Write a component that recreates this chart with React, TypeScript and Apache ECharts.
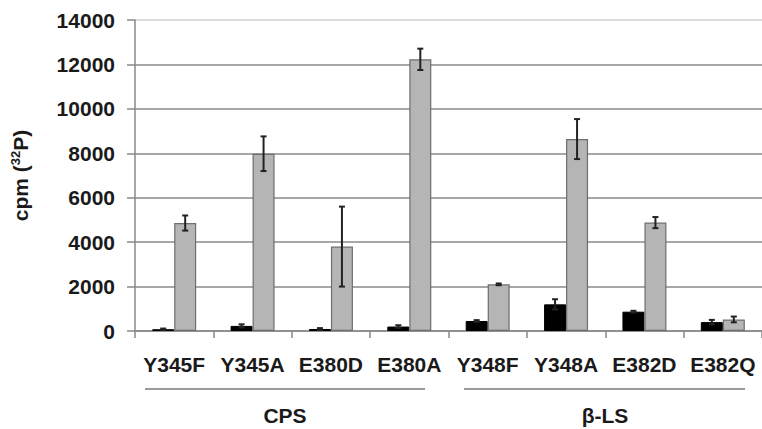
import React, { useEffect, useRef } from "react";
import * as echarts from "echarts";

const categories = ["Y345F", "Y345A", "E380D", "E380A", "Y348F", "Y348A", "E382D", "E382Q"];
const blackValues = [80, 230, 90, 200, 450, 1200, 870, 400];
const blackErrors = [30, 70, 40, 60, 40, 230, 40, 100];
const grayValues = [4860, 7980, 3800, 12230, 2100, 8640, 4880, 520];
const grayErrors = [340, 780, 1800, 480, 40, 900, 250, 130];
const yTicks = { min: 0, max: 14000, interval: 2000 };
const groupLabels = ["CPS", "β-LS"];

const FONT = "'Liberation Sans', Arial, sans-serif";
const BAR_W = 22;

function errorSeries(values: number[], errors: number[], side: number) {
  return {
    type: "custom",
    z: 10,
    silent: true,
    data: values.map((v, i) => [i, v, errors[i]]),
    renderItem: (params: any, api: any) => {
      const i = api.value(0);
      const v = api.value(1);
      const e = api.value(2);
      const top = api.coord([i, v + e]);
      const bot = api.coord([i, v - e]);
      const x = top[0] + side * (BAR_W / 2);
      const cap = 3;
      const style = { stroke: "#222", lineWidth: 2 };
      return {
        type: "group",
        children: [
          { type: "line", shape: { x1: x, y1: top[1], x2: x, y2: bot[1] }, style },
          { type: "line", shape: { x1: x - cap, y1: top[1], x2: x + cap, y2: top[1] }, style },
          { type: "line", shape: { x1: x - cap, y1: bot[1], x2: x + cap, y2: bot[1] }, style },
        ],
      };
    },
  };
}

export default function App() {
  const ref = useRef<HTMLDivElement>(null);
  useEffect(() => {
    if (!ref.current) return;
    const chart = echarts.init(ref.current, null, { renderer: "svg" });
    const gridColors = ["#8a8a8a", "#8a8a8a", "#8a8a8a", "#8a8a8a", "#8a8a8a", "#8a8a8a", "#8a8a8a", "#cfcfcf"];
    chart.setOption({
      animation: false,
      backgroundColor: "#ffffff",
      grid: { left: 135, right: 0, top: 20, bottom: 98 },
      xAxis: {
        type: "category",
        data: categories,
        axisLine: { lineStyle: { color: "#8a8a8a", width: 1.5 } },
        axisTick: { show: true, length: 7, lineStyle: { color: "#8a8a8a", width: 1.5 } },
        axisLabel: { color: "#1a1a1a", fontSize: 21, fontWeight: "bold", fontFamily: FONT, margin: 23, interval: 0 },
      },
      yAxis: {
        type: "value",
        min: yTicks.min,
        max: yTicks.max,
        interval: yTicks.interval,
        name: "{n|cpm (}{sup|32}{n|P)}",
        nameLocation: "middle",
        nameGap: 104,
        nameTextStyle: {
          color: "#1a1a1a",
          fontSize: 21,
          fontWeight: "bold",
          fontFamily: FONT,
          rich: {
            n: { fontSize: 21, fontWeight: "bold", fontFamily: FONT, color: "#1a1a1a", verticalAlign: "bottom" },
            sup: { fontSize: 13, fontWeight: "bold", fontFamily: FONT, color: "#1a1a1a", verticalAlign: "bottom", padding: [0, 0, 9, 0] },
          },
        },
        axisLine: { show: true, lineStyle: { color: "#8a8a8a", width: 1.5 } },
        axisTick: { show: true, length: 8, lineStyle: { color: "#8a8a8a", width: 1.5 } },
        axisLabel: {
          color: "#1a1a1a",
          fontSize: 21,
          fontWeight: "bold",
          fontFamily: FONT,
          margin: 20,
          formatter: (v: number) => String(v),
        },
        splitLine: { show: true, lineStyle: { color: gridColors, width: 1.5 } },
      },
      series: [
        {
          type: "bar",
          data: blackValues,
          barWidth: BAR_W,
          barGap: "0%",
          itemStyle: { color: "#000000", borderColor: "#000000", borderWidth: 1 },
        },
        {
          type: "bar",
          data: grayValues,
          barWidth: BAR_W,
          itemStyle: { color: "#b5b5b5", borderColor: "#6e6e6e", borderWidth: 1.2 },
        },
        errorSeries(blackValues, blackErrors, -1),
        errorSeries(grayValues, grayErrors, 1),
      ],
      graphic: [
        { type: "line", shape: { x1: 145, y1: 389, x2: 425, y2: 389 }, style: { stroke: "#9a9a9a", lineWidth: 2 } },
        { type: "line", shape: { x1: 464, y1: 389, x2: 745, y2: 389 }, style: { stroke: "#9a9a9a", lineWidth: 2 } },
        {
          type: "text",
          x: 285,
          y: 415,
          style: { text: groupLabels[0], fill: "#1a1a1a", font: `bold 21px ${FONT}`, align: "center", verticalAlign: "middle" },
        },
        {
          type: "text",
          x: 605,
          y: 415,
          style: { text: groupLabels[1], fill: "#1a1a1a", font: `bold 21px ${FONT}`, align: "center", verticalAlign: "middle" },
        },
      ],
    });
    return () => chart.dispose();
  }, []);
  return <div ref={ref} style={{ position: "fixed", left: 0, top: 0, width: 762, height: 429 }} />;
}
